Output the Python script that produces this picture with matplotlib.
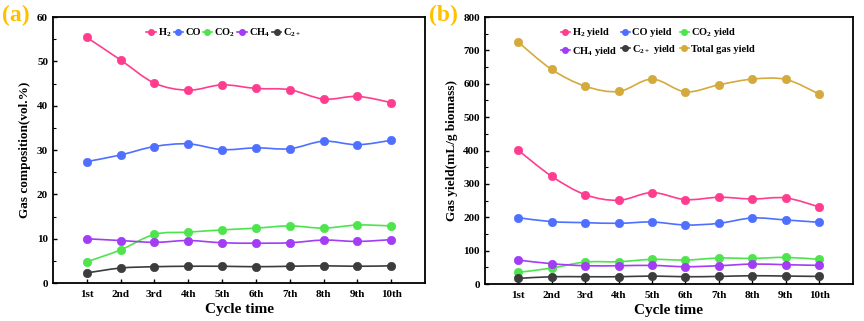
import numpy as np
import matplotlib
matplotlib.use("Agg")
import matplotlib.pyplot as plt
from matplotlib.path import Path
from matplotlib.patches import PathPatch

plt.rcParams['font.family'] = ['Liberation Serif', 'DejaVu Serif']
plt.rcParams['font.weight'] = 'bold'
plt.rcParams['mathtext.fontset'] = 'custom'
plt.rcParams['mathtext.rm'] = 'Liberation Serif:bold'
plt.rcParams['mathtext.bf'] = 'Liberation Serif:bold'

cycles = ['1st', '2nd', '3rd', '4th', '5th', '6th', '7th', '8th', '9th', '10th']

# (a) gas composition, vol.%
h2_vol = [55.4, 50.3, 45.1, 43.5, 44.7, 43.9, 43.6, 41.5, 42.1, 40.7]
co_vol = [27.4, 28.9, 30.8, 31.4, 30.1, 30.5, 30.3, 32.0, 31.2, 32.2]
co2_vol = [4.8, 7.5, 11.0, 11.5, 12.0, 12.4, 12.9, 12.4, 13.1, 12.9]
ch4_vol = [10.0, 9.6, 9.2, 9.6, 9.1, 9.0, 9.1, 9.7, 9.4, 9.8]
c2_vol = [2.3, 3.4, 3.7, 3.8, 3.8, 3.7, 3.8, 3.9, 3.8, 3.9]

# (b) gas yield, mL/g biomass
h2_yield = [401, 323, 268, 251, 274, 253, 260, 255, 258, 231]
co_yield = [199, 187, 184, 182, 186, 177, 182, 198, 192, 185]
co2_yield = [35, 48, 66, 67, 74, 72, 78, 77, 80, 74]
ch4_yield = [72, 61, 55, 55, 56, 52, 55, 60, 58, 56]
c2_yield = [17, 22, 22, 22, 24, 22, 23, 25, 24, 23]
total_yield = [725, 643, 593, 577, 614, 576, 597, 614, 613, 569]

colors = {'H2': '#ff3d8f', 'CO': '#4f6fff', 'CO2': '#4ee44e',
          'CH4': '#a23cf5', 'C2': '#3c3c3c', 'Total': '#d4aa3c'}


def smooth_line(ax, x, y, color):
    # Catmull-Rom through the points, drawn as bezier path
    x = np.asarray(x, float)
    y = np.asarray(y, float)
    verts = [(x[0], y[0])]
    codes = [Path.MOVETO]
    n = len(x)
    for i in range(n - 1):
        p0 = (x[max(i - 1, 0)], y[max(i - 1, 0)])
        p1 = (x[i], y[i])
        p2 = (x[i + 1], y[i + 1])
        p3 = (x[min(i + 2, n - 1)], y[min(i + 2, n - 1)])
        c1 = (p1[0] + (p2[0] - p0[0]) / 6, p1[1] + (p2[1] - p0[1]) / 6)
        c2 = (p2[0] - (p3[0] - p1[0]) / 6, p2[1] - (p3[1] - p1[1]) / 6)
        verts += [c1, c2, p2]
        codes += [Path.CURVE4] * 3
    ax.add_patch(PathPatch(Path(verts, codes), fill=False, edgecolor=color, lw=1.2))


def series(ax, y, color, label):
    x = np.arange(1, len(y) + 1)
    smooth_line(ax, x, y, color)
    ax.plot(x, y, 'o', color=color, ms=6, mec=color, mew=0.5)
    h, = ax.plot([], [], '-o', color=color, ms=4, lw=1.2, label=label)
    return h


def style(ax, ymax, step, ylabel):
    ax.set_xlim(0, 11)
    ax.set_ylim(0, ymax)
    ax.set_xticks(range(1, 11))
    ax.set_xticklabels(cycles)
    ax.set_yticks(np.arange(0, ymax + 1, step))
    ax.set_yticks(np.arange(step / 2, ymax, step), minor=True)
    ax.tick_params(direction='in', labelsize=8, width=1, length=3)
    ax.tick_params(which='minor', direction='in', length=2, width=0.8)
    ax.tick_params(axis='x', pad=5)
    for s in ax.spines.values():
        s.set_linewidth(1.3)
    ax.set_xlabel('Cycle time', fontsize=11, fontweight='bold', labelpad=3)
    ax.set_ylabel(ylabel, fontsize=9.5, fontweight='bold')


fig = plt.figure(figsize=(8.64, 3.21), dpi=100)
ax1 = fig.add_axes([0.0613, 0.118, 0.4307, 0.829])
ax2 = fig.add_axes([0.561, 0.115, 0.426, 0.832])

series(ax1, h2_vol, colors['H2'], r'H$_2$')
series(ax1, co_vol, colors['CO'], 'CO')
series(ax1, co2_vol, colors['CO2'], r'CO$_2$')
series(ax1, ch4_vol, colors['CH4'], r'CH$_4$')
series(ax1, c2_vol, colors['C2'], r'C$_{2+}$')
style(ax1, 60, 10, 'Gas composition(vol.%)')
ax1.legend(loc='upper center', bbox_to_anchor=(0.46, 1.0), ncol=5, frameon=False,
           fontsize=7.5, handlelength=0.9, handletextpad=0.2, columnspacing=0.2)

hb = [series(ax2, h2_yield, colors['H2'], r'H$_2$ yield'),
      series(ax2, co_yield, colors['CO'], 'CO yield'),
      series(ax2, co2_yield, colors['CO2'], r'CO$_2$ yield'),
      series(ax2, ch4_yield, colors['CH4'], r'CH$_4$ yield'),
      series(ax2, c2_yield, colors['C2'], r'C$_{2+}$ yield'),
      series(ax2, total_yield, colors['Total'], 'Total gas yield')]
style(ax2, 800, 100, 'Gas yield(mL/g biomass)')
order = [0, 3, 1, 4, 2, 5]
ax2.legend([hb[i] for i in order], [hb[i].get_label() for i in order],
           loc='upper center', bbox_to_anchor=(0.47, 1.0), ncol=3, frameon=False,
           fontsize=7.5, handlelength=0.9, handletextpad=0.2, columnspacing=0.3,
           labelspacing=0.5)

fig.text(0.002, 0.935, '(a)', fontsize=17, fontweight='bold', color='#ffc000')
fig.text(0.497, 0.935, '(b)', fontsize=17, fontweight='bold', color='#ffc000')

fig.savefig('out.png', dpi=100)
